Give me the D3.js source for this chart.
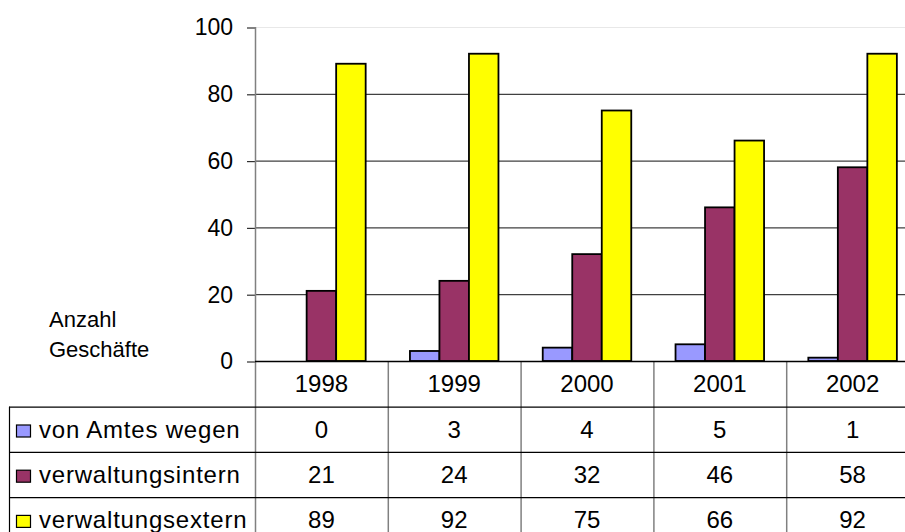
<!DOCTYPE html>
<html><head><meta charset="utf-8">
<script src="https://cdn.jsdelivr.net/npm/d3@7"></script>
<style>
html,body{margin:0;padding:0;background:#fff;}
svg{display:block;font-family:"Liberation Sans",Arial,sans-serif;}
</style></head>
<body>
<svg id="chart" width="905" height="532"></svg>
<script>
const years = ["1998","1999","2000","2001","2002"];
const seriesNames = ["von Amtes wegen","verwaltungsintern","verwaltungsextern"];
const vonAmtesWegen = [0,3,4,5,1];
const verwaltungsintern = [21,24,32,46,58];
const verwaltungsextern = [89,92,75,66,92];
const seriesColors = ["#9999FF","#993366","#FFFF00"];
const yTicks = [0,20,40,60,80,100];
const yAxisLabel = ["Anzahl","Geschäfte"];

const seriesValues = [vonAmtesWegen, verwaltungsintern, verwaltungsextern];

const svg = d3.select("#chart");
const plotLeft = 255, plotRight = 919, plotTop = 27, plotBottom = 361;
const headerH = 45.7, rowH = 45.2, tableLeft = 9, baseOff = 30.8;

const x = d3.scaleBand().domain(years).range([plotLeft, plotRight]).paddingInner(0).paddingOuter(0);
const x1 = d3.scaleBand().domain(seriesNames).range([0, x.bandwidth()]).paddingInner(0).paddingOuter(0.75);
const y = d3.scaleLinear().domain([0,100]).range([plotBottom, plotTop]);

// gridlines
svg.append("g").selectAll("line").data(yTicks.filter(d=>d>0)).join("line")
  .attr("x1", plotLeft).attr("x2", plotRight)
  .attr("y1", d=>y(d)+0.5).attr("y2", d=>y(d)+0.5)
  .attr("stroke", d=> d===100 ? "#e8e8e8" : "#404040").attr("stroke-width",1.2);

// y axis
const yAxis = d3.axisLeft(y).tickValues(yTicks).tickSize(8).tickPadding(14);
const yg = svg.append("g").attr("transform",`translate(${plotLeft},0.5)`).call(yAxis);
yg.select(".domain").remove();
yg.selectAll(".tick line").attr("stroke","#303030").attr("stroke-width",1.2);
yg.selectAll(".tick text").attr("font-size","23px").attr("fill","#000").attr("font-family","Liberation Sans, Arial, sans-serif");

// bars
const groups = svg.append("g").selectAll("g").data(years).join("g")
  .attr("transform", d=>`translate(${x(d)},0)`);
groups.selectAll("rect").data((yr,i)=>seriesNames.map((s,k)=>({s, k, v: seriesValues[k][i]}))).join("rect")
  .filter(d=>d.v>0)
  .attr("x", d=>x1(d.s)).attr("width", x1.bandwidth())
  .attr("y", d=>y(d.v)).attr("height", d=>y(0)-y(d.v))
  .attr("fill", d=>seriesColors[d.k]).attr("stroke","#000").attr("stroke-width",1.8);

// y axis line (vertical, extends through table)
svg.append("line").attr("x1",plotLeft+0.5).attr("x2",plotLeft+0.5).attr("y1",plotTop).attr("y2",532)
  .attr("stroke","#808080").attr("stroke-width",1.5);

// table vertical dividers
svg.append("g").selectAll("line").data(years.slice(1)).join("line")
  .attr("x1", d=>x(d)+0.5).attr("x2", d=>x(d)+0.5).attr("y1", plotBottom).attr("y2", 532)
  .attr("stroke","#808080").attr("stroke-width",1.5);

// x axis line
svg.append("line").attr("x1",plotLeft).attr("x2",plotRight).attr("y1",plotBottom+0.5).attr("y2",plotBottom+0.5)
  .attr("stroke","#000").attr("stroke-width",1.5);

// table horizontal lines
const rowTops = seriesNames.map((s,k)=>plotBottom + headerH + k*rowH);
svg.append("g").selectAll("line").data(rowTops).join("line")
  .attr("x1", tableLeft).attr("x2", plotRight)
  .attr("y1", d=>d + 0.5).attr("y2", d=>d + 0.5)
  .attr("stroke","#000").attr("stroke-width",1.2);
svg.append("line").attr("x1",tableLeft+0.5).attr("x2",tableLeft+0.5).attr("y1",rowTops[0]).attr("y2",532)
  .attr("stroke","#000").attr("stroke-width",1.2);

// header year labels
svg.append("g").selectAll("text").data(years).join("text")
  .attr("x", d=>x(d)+x.bandwidth()/2).attr("y", plotBottom + baseOff)
  .attr("text-anchor","middle").attr("font-size","24px").text(d=>d);

// data rows
seriesNames.forEach((s,k)=>{
  const base = rowTops[k] + baseOff;
  svg.append("g").selectAll("text").data(seriesValues[k]).join("text")
    .attr("x", (d,i)=>x(years[i])+x.bandwidth()/2).attr("y", base)
    .attr("text-anchor","middle").attr("font-size","24px").text(d=>d);
  svg.append("rect").attr("x",16.5).attr("y",base-12.5).attr("width",14).attr("height",12)
    .attr("fill",seriesColors[k]).attr("stroke","#000").attr("stroke-width",1.2);
  svg.append("text").attr("x",39).attr("y",base).attr("font-size","24px")
    .attr("letter-spacing","0.8px").text(s);
});

// axis title
svg.append("g").selectAll("text").data(yAxisLabel).join("text")
  .attr("x",49).attr("y",(d,i)=>327+i*30).attr("font-size","22px").text(d=>d);
</script>
</body></html>
